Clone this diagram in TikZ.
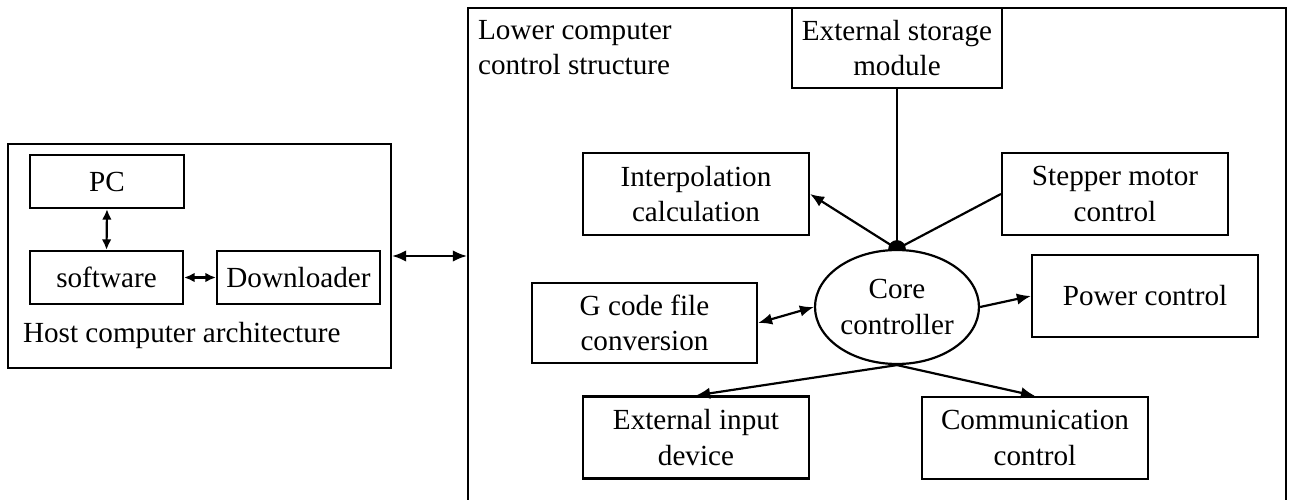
\documentclass[tikz,border=0pt]{standalone}
\usepackage{fontspec}
\setmainfont{Liberation Serif}
\usetikzlibrary{shapes.geometric,arrows.meta}

\begin{document}
\begin{tikzpicture}[x=0.02cm,y=-0.02cm,line width=1.25pt,>={Latex[length=8pt,width=6.5pt]}]
  \tikzstyle{every node}=[font=\fontsize{16.6}{20.2}\selectfont]
  \tikzstyle{blk}=[draw,rectangle,align=center,inner sep=0pt]
  \tikzstyle{unit}=[blk,minimum width=4.52cm,minimum height=1.64cm]
  \tikzstyle{small}=[{Latex[length=6pt,width=5.5pt]}-{Latex[length=6pt,width=5.5pt]}]
  \useasboundingbox (0,0) rectangle (1289,500);
  \clip (0,0) rectangle (1289,500);

  % host side
  \node[blk,minimum width=7.66cm,minimum height=4.48cm] (host) at (199.5,256) {};
  \node[blk,minimum width=3.08cm,minimum height=1.06cm] (pc) at (107,181.5) {PC};
  \node[blk,minimum width=3.06cm,minimum height=1.06cm] (soft) at (106.5,277.5) {software};
  \node[blk,minimum width=3.26cm,minimum height=1.06cm] (down) at (298.5,277.5) {Downloader};
  \node[anchor=base west,inner sep=0pt] (hosttitle) at (22,342) {Host computer architecture};
  \draw[small] (pc.south) -- (soft.north);
  \draw[small] (soft.east) -- (down.west);

  % lower computer side
  \node[blk,minimum width=16.36cm,minimum height=10.64cm] (lower) at (877,274) {};
  \node[anchor=north west,align=left,inner sep=0pt] (lowtitle) at (477,19) {Lower computer\\control structure};
  \draw[<->] (host.east) -- (lower.west |- host.east);

  \node[draw,ellipse,minimum width=3.28cm,minimum height=2.28cm,inner sep=0pt,align=center] (core) at (897,307) {Core\\controller};
  \node[blk,minimum width=4.2cm,minimum height=1.6cm] (store) at (897,48) {External storage\\module};
  \node[unit] (interp) at (696,194) {Interpolation\\calculation};
  \node[unit] (stepper) at (1115,194) {Stepper motor\\control};
  \node[blk,minimum width=4.5cm,minimum height=1.6cm] (gcode) at (644.5,323) {G code file\\conversion};
  \node[unit] (power) at (1145,296) {Power control};
  \node[unit] (extin) at (696,437.5) {External input\\device};
  \node[unit] (comm) at (1035,438) {Communication\\control};

  \draw (store.south) -- (core.north);
  \draw (stepper.west) -- (core.north);
  \draw[->] (core.north) -- (interp.east);
  \fill ([xshift=-5pt]core.north) arc[start angle=180,end angle=0,radius=5pt];
  \draw[<->] (gcode.east) -- (core.west);
  \draw[->] (core.east) -- (power.west);
  \draw[->] (core.south) -- (extin.north);
  \draw[->] (core.south) -- (comm.north);
\end{tikzpicture}
\end{document}
